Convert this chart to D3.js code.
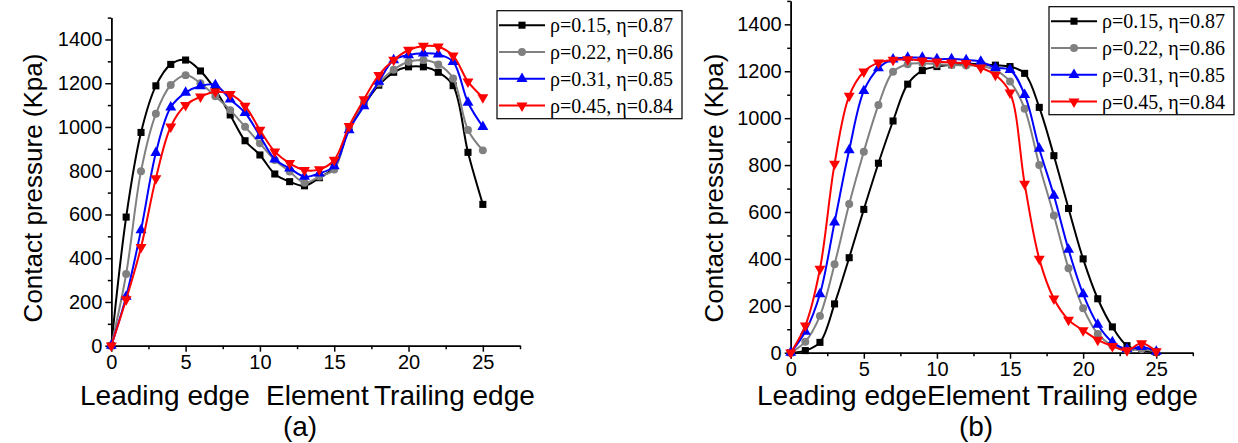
<!DOCTYPE html>
<html>
<head>
<meta charset="utf-8">
<script src="https://cdn.jsdelivr.net/npm/d3@7/dist/d3.min.js"></script>
<style>
body { margin: 0; background: #fff; }
svg text { font-family: Arial, "Liberation Sans", sans-serif; fill: #000; }
.legend text { font-family: "Times New Roman", "Liberation Serif", serif; }
</style>
</head>
<body>
<svg id="chart" width="1238" height="443"></svg>
<script>
// Element number (x) for every point
const elements = [0, 1, 2, 3, 4, 5, 6, 7, 8, 9, 10, 11, 12, 13, 14, 15, 16, 17, 18, 19, 20, 21, 22, 23, 24, 25];

// Panel (a) contact pressure (Kpa)
const pressA_015 = [0, 588, 975, 1188, 1286, 1306, 1256, 1170, 1055, 937, 872, 785, 750, 731, 768, 815, 995, 1100, 1191, 1250, 1275, 1275, 1250, 1189, 884, 646];
const pressA_022 = [0, 328, 798, 1060, 1192, 1237, 1200, 1140, 1077, 1001, 925, 849, 796, 745, 773, 806, 1000, 1110, 1200, 1262, 1298, 1306, 1286, 1222, 986, 893];
const pressA_031 = [0, 225, 529, 882, 1090, 1157, 1187, 1192, 1126, 1065, 959, 852, 811, 773, 788, 821, 986, 1096, 1207, 1306, 1329, 1337, 1332, 1298, 1112, 1001];
const pressA_045 = [0, 212, 450, 765, 1001, 1100, 1138, 1161, 1150, 1096, 986, 887, 834, 803, 806, 849, 1004, 1126, 1237, 1306, 1352, 1370, 1367, 1326, 1207, 1135];

// Panel (b) contact pressure (Kpa)
const pressB_015 = [0, 9, 44, 208, 405, 611, 808, 988, 1145, 1203, 1220, 1228, 1232, 1230, 1226, 1220, 1191, 1046, 840, 615, 400, 230, 110, 30, 10, 2];
const pressB_022 = [0, 47, 157, 377, 634, 857, 1056, 1198, 1230, 1234, 1230, 1227, 1225, 1222, 1205, 1156, 1040, 800, 585, 360, 190, 80, 30, 10, 15, 5];
const pressB_031 = [0, 90, 250, 556, 864, 1116, 1213, 1251, 1258, 1258, 1252, 1252, 1248, 1241, 1215, 1206, 1100, 870, 670, 440, 250, 120, 45, 15, 25, 5];
const pressB_045 = [0, 115, 357, 805, 1095, 1198, 1237, 1248, 1251, 1245, 1241, 1237, 1234, 1215, 1184, 1109, 720, 400, 230, 140, 95, 55, 28, 10, 40, 5];

const seriesNames = ['ρ=0.15, η=0.87', 'ρ=0.22, η=0.86', 'ρ=0.31, η=0.85', 'ρ=0.45, η=0.84'];
const seriesColors = ['#000000', '#808080', '#0000ff', '#ff0000'];
const seriesSymbols = [d3.symbolSquare, d3.symbolCircle, d3.symbolTriangle, d3.symbolTriangle];

const yTicks = [0, 200, 400, 600, 800, 1000, 1200, 1400];
const yMinorTicks = [100, 300, 500, 700, 900, 1100, 1300, 1500];
const xTicks = [0, 5, 10, 15, 20, 25];
const xMinorTicks = [2.5, 7.5, 12.5, 17.5, 22.5, 27.5];

const svg = d3.select('#chart');

function drawPanel(p) {
    const x = d3.scaleLinear().domain([0, 27.5]).range([p.x0, p.x1]);
    const y = d3.scaleLinear().domain([0, 1500]).range([p.y0, p.y1]);
    const g = svg.append('g');

    // ejes
    const axisY = g.append('g').attr('transform', `translate(${p.x0},0)`)
        .call(d3.axisLeft(y).tickValues(yTicks).tickFormat(d3.format('d'))
            .tickSize(6).tickSizeOuter(0).tickPadding(3));
    g.append('g').attr('transform', `translate(${p.x0},0)`)
        .call(d3.axisLeft(y).tickValues(yMinorTicks).tickSize(3.5).tickSizeOuter(0).tickFormat(''));
    const axisX = g.append('g').attr('transform', `translate(0,${p.y0})`)
        .call(d3.axisBottom(x).tickValues(xTicks).tickFormat(d3.format('d'))
            .tickSize(6).tickSizeOuter(0).tickPadding(3));
    g.append('g').attr('transform', `translate(0,${p.y0})`)
        .call(d3.axisBottom(x).tickValues(xMinorTicks).tickSize(3.5).tickSizeOuter(0).tickFormat(''));
    g.selectAll('.domain, .tick line').attr('stroke', '#000').attr('stroke-width', 1.5);
    axisY.selectAll('text').style('font-size', '20px');
    axisX.selectAll('text').style('font-size', '20px');

    // títulos
    g.append('text')
        .attr('transform', `translate(${p.titleX},${p.titleY}) rotate(-90)`)
        .attr('text-anchor', 'middle')
        .style('font-size', '26px')
        .text('Contact pressure (Kpa)');
    p.bottomTexts.forEach(t => {
        g.append('text').attr('x', t[1]).attr('y', 405)
            .style('font-size', '28px').text(t[0]);
    });
    g.append('text').attr('x', p.labelX).attr('y', 436)
        .attr('text-anchor', 'middle').style('font-size', '28px').text(p.label);

    // series
    const line = d3.line()
        .x((d, i) => x(elements[i]))
        .y(d => y(d))
        .curve(d3.curveCatmullRom.alpha(0.5));

    p.series.forEach((s, k) => {
        const sg = g.append('g');
        sg.append('path').datum(s)
            .attr('fill', 'none').attr('stroke', seriesColors[k]).attr('stroke-width', 2)
            .attr('d', line);
        sg.selectAll('path.m').data(s).enter().append('path').attr('class', 'm')
            .attr('transform', (d, i) => `translate(${x(elements[i])},${y(d)})` + (k === 3 ? ' rotate(180)' : ''))
            .attr('d', d3.symbol().type(seriesSymbols[k]).size(k >= 2 ? 52 : 50))
            .attr('fill', seriesColors[k]);
    });

    // leyenda
    const lg = g.append('g').attr('class', 'legend')
        .attr('transform', `translate(${p.legX},${p.legY})`);
    lg.append('rect').attr('width', 185).attr('height', 108)
        .attr('fill', '#fff').attr('stroke', '#000').attr('stroke-width', 1.2);
    seriesNames.forEach((name, k) => {
        const ry = 14.5 + k * 26.8;
        lg.append('line').attr('x1', 2).attr('x2', 48).attr('y1', ry).attr('y2', ry)
            .attr('stroke', seriesColors[k]).attr('stroke-width', 2);
        lg.append('path')
            .attr('transform', `translate(25,${ry})` + (k === 3 ? ' rotate(180)' : ''))
            .attr('d', d3.symbol().type(seriesSymbols[k]).size(k >= 2 ? 52 : 50))
            .attr('fill', seriesColors[k]);
        lg.append('text').attr('x', 53).attr('y', ry + 7)
            .style('font-size', '20px').text(name);
    });
}

drawPanel({
    x0: 111.3, x1: 520, y0: 345.7, y1: 17.6,
    titleX: 42, titleY: 188,
    bottomTexts: [['Leading edge', 80], ['Element', 266], ['Trailing edge', 374]],
    label: '(a)', labelX: 300,
    series: [pressA_015, pressA_022, pressA_031, pressA_045],
    legX: 497, legY: 10.7
});

drawPanel({
    x0: 790.7, x1: 1192.8, y0: 352.7, y1: 0.9,
    titleX: 723, titleY: 188,
    bottomTexts: [['Leading edge', 757], ['Element', 927], ['Trailing edge', 1037]],
    label: '(b)', labelX: 976,
    series: [pressB_015, pressB_022, pressB_031, pressB_045],
    legX: 1049, legY: 6.7
});
</script>
</body>
</html>
